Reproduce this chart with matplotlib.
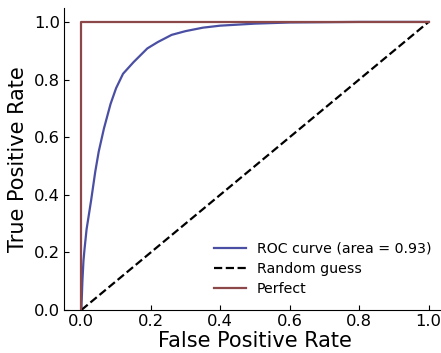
import numpy as np
import matplotlib
matplotlib.use("Agg")
import matplotlib.pyplot as plt

# ROC curve points
fpr = [0.0, 0.003, 0.006, 0.009, 0.015, 0.028, 0.040, 0.050, 0.065, 0.084,
       0.100, 0.120, 0.150, 0.190, 0.220, 0.260, 0.300, 0.350, 0.400, 0.500,
       0.600, 0.700, 0.800, 1.000]
tpr = [0.0, 0.100, 0.170, 0.210, 0.280, 0.380, 0.480, 0.550, 0.630, 0.715,
       0.770, 0.820, 0.860, 0.908, 0.930, 0.955, 0.968, 0.980, 0.987, 0.994,
       0.998, 0.999, 1.000, 1.000]
roc_auc = 0.93

random_x = [0.0, 1.0]
random_y = [0.0, 1.0]
perfect_x = [0.0, 0.0, 1.0]
perfect_y = [0.0, 1.0, 1.0]

ticks = [0.0, 0.2, 0.4, 0.6, 0.8, 1.0]

fig = plt.figure(figsize=(4.41, 3.53), dpi=100)
ax = fig.add_axes([64 / 441, 43 / 353, 382 / 441, 302.5 / 353])

ax.plot(fpr, tpr, color="#4a4fa3", lw=1.6,
        label="ROC curve (area = %0.2f)" % roc_auc)
ax.plot(random_x, random_y, color="black", lw=1.6, linestyle="--",
        label="Random guess")
ax.plot(perfect_x, perfect_y, color="#8c4848", lw=1.6, label="Perfect")

ax.set_xlim(-0.05, 1.05)
ax.set_ylim(0.0, 1.05)
ax.set_xticks(ticks)
ax.set_yticks(ticks)
ax.tick_params(direction="in", labelsize=11.8, length=3.5, pad=3)
ax.spines["top"].set_visible(False)
ax.spines["right"].set_visible(False)

ax.set_xlabel("False Positive Rate", fontsize=15, labelpad=1)
ax.set_ylabel("True Positive Rate", fontsize=15, labelpad=4)

ax.legend(loc="lower right", frameon=False, fontsize=10.2,
          bbox_to_anchor=(0.995, 0.003), handlelength=2.2, labelspacing=0.45)

fig.savefig("out.png", dpi=100)
